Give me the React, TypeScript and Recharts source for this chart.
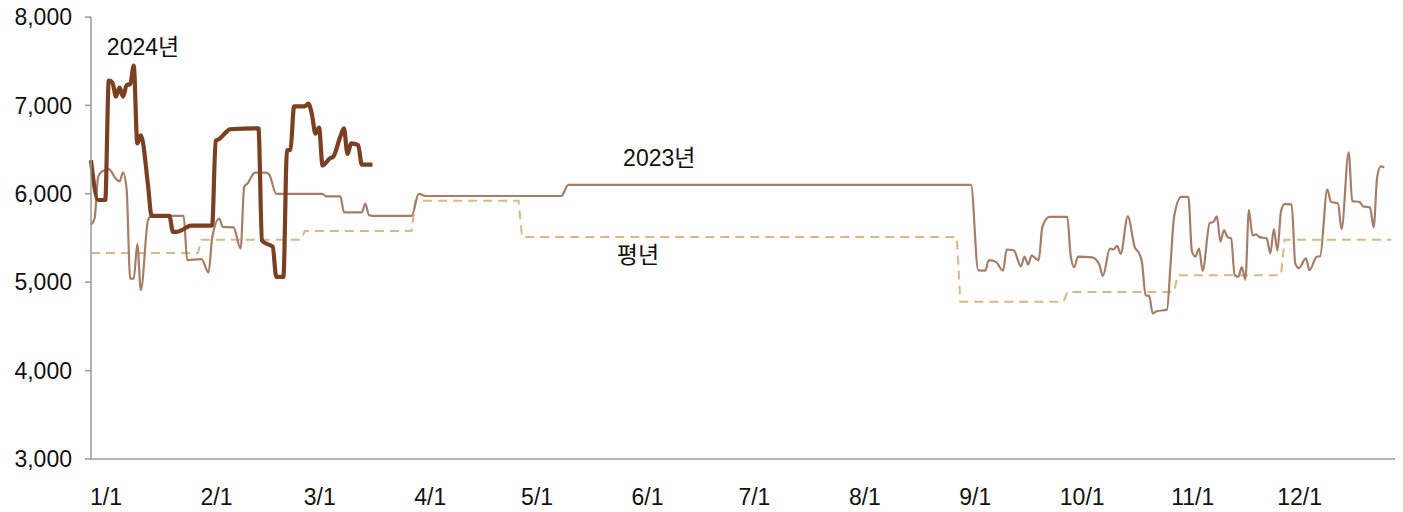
import { LineChart, Line, XAxis, YAxis, ReferenceDot } from 'recharts';

// day index from 1/1 (leap-year calendar, as on the axis)
const MONTH_STARTS = [0, 31, 60, 91, 121, 152, 182, 213, 244, 274, 305, 335];
const MONTH_LABELS = ['1/1', '2/1', '3/1', '4/1', '5/1', '6/1', '7/1', '8/1', '9/1', '10/1', '11/1', '12/1'];
const YEAR_END = 366;

// 평년: monthly normal
const NORMAL_BY_MONTH = [5330, 5480, 5580, 5920, 5510, 5510, 5510, 5510, 4780, 4890, 5080, 5480];

// 2024 (thick line)
const DAYS_2024 = [0, 2, 4, 5, 6, 7, 8, 9, 10, 11, 12, 13, 14, 16, 17, 22, 23, 24, 26, 28, 34, 35, 36, 38, 39, 47, 48, 49, 51, 52, 54, 55, 56, 57, 60, 61, 62, 63, 64, 65, 67, 68, 70, 71, 72, 73, 75, 76, 79];
const VALUES_2024 = [6380, 5930, 5930, 7280, 7260, 7100, 7200, 7100, 7230, 7240, 7450, 6570, 6660, 6100, 5750, 5750, 5570, 5570, 5600, 5640, 5640, 6600, 6620, 6700, 6730, 6740, 5470, 5440, 5400, 5060, 5060, 6490, 6500, 6990, 6990, 7020, 6900, 6680, 6750, 6320, 6400, 6420, 6650, 6740, 6450, 6570, 6550, 6330, 6330];

// 2023
const DAYS_2023 = [0, 1, 2, 3, 5, 7, 8, 9, 10, 11, 12, 13, 14, 16, 17, 26, 27, 31, 33, 34, 36, 37, 40, 42, 43, 44, 46, 49, 50, 52, 65, 66, 70, 71, 76, 77, 78, 79, 90, 92, 94, 132, 134, 247, 249, 251, 252, 254, 256, 257, 259, 261, 262, 263, 264, 266, 267, 269, 274, 275, 276, 277, 281, 283, 284, 286, 287, 288, 289, 291, 293, 294, 295, 296, 297, 298, 299, 302, 303, 304, 306, 308, 309, 310, 311, 312, 314, 315, 316, 317, 318, 319, 320, 321, 322, 323, 324, 325, 326, 327, 328, 330, 331, 332, 333, 334, 335, 337, 338, 339, 341, 342, 344, 345, 347, 348, 350, 351, 353, 354, 356, 357, 359, 360, 361, 362, 363];
const VALUES_2023 = [5650, 5720, 6190, 6250, 6280, 6170, 6140, 6240, 6050, 5040, 5040, 5430, 4910, 5700, 5750, 5750, 5250, 5260, 5110, 5500, 5720, 5625, 5620, 5380, 6080, 6120, 6240, 6240, 6220, 6000, 6000, 5970, 5970, 5790, 5790, 5890, 5760, 5750, 5750, 6000, 5975, 5975, 6100, 6100, 5136, 5130, 5250, 5230, 5130, 5370, 5360, 5180, 5290, 5200, 5300, 5250, 5620, 5740, 5740, 5290, 5170, 5290, 5280, 5200, 5070, 5380, 5370, 5410, 5320, 5745, 5390, 5340, 5220, 4850, 4846, 4645, 4670, 4690, 5200, 5740, 5965, 5965, 5350, 5290, 5380, 5130, 5670, 5680, 5745, 5460, 5590, 5510, 5495, 5080, 5060, 5170, 5030, 5815, 5530, 5540, 5510, 5495, 5325, 5600, 5360, 5800, 5883, 5880, 5214, 5160, 5270, 5136, 5287, 5295, 6050, 5910, 5890, 5600, 6470, 5917, 5909, 5860, 5845, 5620, 6190, 6310, 6297];

const Y_TICKS = [3000, 4000, 5000, 6000, 7000, 8000];

const FONT = '"Liberation Sans", Arial, "Noto Sans CJK KR", sans-serif';

const series2024 = DAYS_2024.map((d, i) => ({ d, v: VALUES_2024[i] }));
const series2023 = DAYS_2023.map((d, i) => ({ d, v: VALUES_2023[i] }));
const seriesNormal = MONTH_STARTS.flatMap((s, i) => {
  const e = (MONTH_STARTS[i + 1] ?? YEAR_END) - 1;
  return [{ d: s, v: NORMAL_BY_MONTH[i] }, { d: e, v: NORMAL_BY_MONTH[i] }];
});

const labelFor = (d: number) => MONTH_LABELS[MONTH_STARTS.indexOf(d)];

const MonthTick = ({ x, y, payload }: any) => (
  <text x={x + 15} y={y + 46} textAnchor="middle" fill="#111" fontSize={23}>
    {labelFor(payload.value)}
  </text>
);

const seriesLabel = (value: string) => ({ value, position: 'center' as const, fill: '#111', fontSize: 23 });

export default function App() {
  return (
    <div style={{ width: 1403, height: 512, fontFamily: FONT }}>
      <style>{'body{margin:0}'}</style>
      <LineChart width={1403} height={512} margin={{ top: 17, right: 8, bottom: 0, left: 0 }}>
        <XAxis
          type="number"
          dataKey="d"
          domain={[0, YEAR_END]}
          ticks={MONTH_STARTS}
          interval={0}
          tickLine={false}
          tickSize={0}
          tickMargin={0}
          height={53}
          axisLine={{ stroke: '#999', strokeWidth: 1.5 }}
          tick={<MonthTick />}
        />
        <YAxis
          type="number"
          domain={[3000, 8000]}
          ticks={Y_TICKS}
          interval={0}
          width={91}
          tickSize={6}
          tickMargin={13}
          axisLine={{ stroke: '#999', strokeWidth: 1.5 }}
          tickLine={{ stroke: '#999', strokeWidth: 1.5 }}
          tick={{ fill: '#111', fontSize: 23 }}
          tickFormatter={(v: number) => v.toLocaleString('en-US')}
        />
        <Line
          data={seriesNormal}
          dataKey="v"
          type="linear"
          stroke="#D9B886"
          strokeWidth={2}
          strokeDasharray="9 6"
          dot={false}
          isAnimationActive={false}
        />
        <Line
          data={series2023}
          dataKey="v"
          type="monotone"
          stroke="#A67E68"
          strokeWidth={2.2}
          dot={false}
          isAnimationActive={false}
        />
        <Line
          data={series2024}
          dataKey="v"
          type="monotone"
          stroke="#7B3F22"
          strokeWidth={4.2}
          strokeLinejoin="round"
          dot={false}
          isAnimationActive={false}
        />
        <ReferenceDot x={14.6} y={7660} r={0} stroke="none" fill="none" label={seriesLabel('2024년')} />
        <ReferenceDot x={159.5} y={6410} r={0} stroke="none" fill="none" label={seriesLabel('2023년')} />
        <ReferenceDot x={153.5} y={5310} r={0} stroke="none" fill="none" label={seriesLabel('평년')} />
      </LineChart>
    </div>
  );
}
